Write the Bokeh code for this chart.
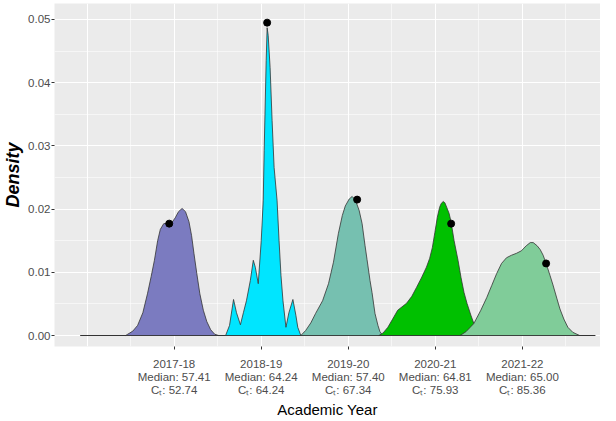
from bokeh.plotting import figure
from bokeh.models import FixedTicker, Range1d, ColumnDataSource
from bokeh.embed import file_html
from bokeh.resources import INLINE

# ---- data (positions on the Academic-Year axis, density values) ----
years = ["2017-18", "2018-19", "2019-20", "2020-21", "2021-22"]
medians = ["57.41", "64.24", "57.40", "64.81", "65.00"]
cts = ["52.74", "64.24", "67.34", "75.93", "85.36"]
colors = ["#7B7BC0", "#00E5FF", "#76C0B0", "#00C000", "#80CC99"]

x_1718 = [0.443, 0.466, 0.525, 0.580, 0.640, 0.693, 0.735, 0.773, 0.810, 0.841, 0.880, 0.943, 0.980, 1.011, 1.050,
          1.091, 1.130, 1.170, 1.200, 1.227, 1.260, 1.295, 1.335, 1.375, 1.420, 1.466, 1.511]
d_1718 = [0, 0.0002, 0.0007, 0.0016, 0.0036, 0.0066, 0.0093, 0.0119, 0.0150, 0.0168, 0.0177, 0.0178, 0.0180, 0.0186, 0.0196,
          0.0201, 0.0196, 0.0180, 0.0158, 0.0130, 0.0098, 0.0066, 0.0040, 0.0022, 0.0009, 0.0002, 0]

x_1819 = [1.591, 1.636, 1.682, 1.716, 1.761, 1.795, 1.830, 1.875, 1.909, 1.932, 1.966, 2.000, 2.023, 2.034, 2.057,
          2.068, 2.080, 2.102, 2.125, 2.148, 2.182, 2.205, 2.227, 2.250, 2.284, 2.318, 2.364, 2.398, 2.420, 2.455]
d_1819 = [0, 0.0016, 0.0057, 0.0036, 0.0017, 0.0036, 0.0055, 0.0087, 0.0119, 0.0108, 0.0082, 0.0150, 0.0214, 0.0293, 0.0435,
          0.0487, 0.0475, 0.0424, 0.0340, 0.0266, 0.0214, 0.0150, 0.0095, 0.0055, 0.0013, 0.0036, 0.0057, 0.0032, 0.0013, 0]

x_1920 = [2.455, 2.511, 2.570, 2.625, 2.705, 2.773, 2.830, 2.886, 2.932, 2.966, 3.011, 3.045, 3.080, 3.125, 3.159, 3.193,
          3.216, 3.250, 3.273, 3.307, 3.341, 3.364, 3.398]
d_1920 = [0, 0.0008, 0.0020, 0.0035, 0.0055, 0.0082, 0.0116, 0.0161, 0.0190, 0.0205, 0.0216, 0.0220, 0.0215, 0.0198, 0.0177, 0.0142,
          0.0120, 0.0087, 0.0068, 0.0035, 0.0016, 0.0006, 0]

x_2021 = [3.352, 3.400, 3.455, 3.510, 3.568, 3.670, 3.730, 3.784, 3.840, 3.898, 3.935, 3.966, 3.995, 4.023, 4.050, 4.068, 4.091,
          4.110, 4.125, 4.159, 4.182, 4.216, 4.261, 4.295, 4.330, 4.364, 4.409, 4.443, 4.489, 4.534]
d_2021 = [0, 0.0004, 0.0013, 0.0026, 0.0040, 0.0051, 0.0062, 0.0076, 0.0091, 0.0108, 0.0122, 0.0139, 0.0163, 0.0187, 0.0203,
          0.0209, 0.0212, 0.0210, 0.0205, 0.0193, 0.0179, 0.0150, 0.0119, 0.0092, 0.0068, 0.0051, 0.0032, 0.0019, 0.0006, 0]

x_2122 = [4.284, 4.352, 4.443, 4.523, 4.591, 4.648, 4.705, 4.761, 4.818, 4.875, 4.932, 4.989, 5.045, 5.091, 5.125,
          5.170, 5.205, 5.239, 5.273, 5.318, 5.352, 5.398, 5.432, 5.477, 5.523, 5.580, 5.659]
d_2122 = [0, 0.0006, 0.0019, 0.0040, 0.0060, 0.0079, 0.0098, 0.0114, 0.0123, 0.0127, 0.0130, 0.0134, 0.0142, 0.0147, 0.0147,
          0.0142, 0.0136, 0.0127, 0.0114, 0.0095, 0.0080, 0.0058, 0.0042, 0.0026, 0.0013, 0.0005, 0]

point_x = [0.943, 2.068, 3.102, 4.182, 5.273]
point_d = [0.0177, 0.0495, 0.0215, 0.0177, 0.0114]

baseline_x = [-0.08, 5.84]
baseline_d = [0, 0]

year_pos = [1, 2, 3, 4, 5]
y_ticks = [0.0, 0.01, 0.02, 0.03, 0.04, 0.05]
y_minor = [0.005, 0.015, 0.025, 0.035, 0.045]
grid_x = [0, 1, 2, 3, 4, 5, 6]
grid_x_minor = [0.5, 1.5, 2.5, 3.5, 4.5, 5.5]

xs_all = [x_1718, x_1819, x_1920, x_2021, x_2122]
ds_all = [d_1718, d_1819, d_1920, d_2021, d_2122]

# ---- figure ----
FONT = "Liberation Sans"
p = figure(width=600, height=420, output_backend="svg", toolbar_location=None,
           x_range=Range1d(-0.375, 5.898), y_range=Range1d(-0.00174, 0.05253),
           min_border_left=48, min_border_right=0, min_border_top=3, min_border_bottom=0)
p.background_fill_color = "#EBEBEB"
p.border_fill_color = "white"
p.outline_line_color = None

# grids
p.xgrid.ticker = FixedTicker(ticks=grid_x, minor_ticks=grid_x_minor)
p.ygrid.ticker = FixedTicker(ticks=y_ticks, minor_ticks=y_minor)
for g in (p.xgrid, p.ygrid):
    g.grid_line_color = "white"
    g.grid_line_width = 1.1
    g.minor_grid_line_color = "white"
    g.minor_grid_line_width = 0.55

# axes
p.xaxis.ticker = FixedTicker(ticks=year_pos, minor_ticks=[])
p.xaxis.major_label_overrides = {
    pos: f"{y}\nMedian: {m}\nC\u209c: {c}" for pos, y, m, c in zip(year_pos, years, medians, cts)
}
p.yaxis.ticker = FixedTicker(ticks=y_ticks, minor_ticks=[])
p.yaxis.major_label_overrides = {t: f"{t:.2f}" for t in y_ticks}

for ax in (p.xaxis[0], p.yaxis[0]):
    ax.axis_line_color = None
    ax.major_tick_line_color = "#333333"
    ax.major_tick_line_width = 1
    ax.major_tick_in = 0
    ax.major_tick_out = 3
    ax.minor_tick_line_color = None
    ax.major_label_text_font = FONT
    ax.major_label_text_font_size = "11.5px"
    ax.major_label_text_color = "#4D4D4D"
    ax.axis_label_text_font = FONT

p.xaxis.major_label_standoff = 8
p.xaxis.major_label_text_line_height = 1.1
p.xaxis.axis_label = "Academic Year"
p.xaxis.axis_label_text_font_size = "15px"
p.xaxis.axis_label_text_font_style = "normal"
p.xaxis.axis_label_text_color = "black"
p.xaxis.axis_label_text_line_height = 1.0
p.xaxis.axis_label_standoff = 2

p.yaxis.major_label_standoff = 1
p.yaxis.axis_label = "Density"
p.yaxis.axis_label_text_font_size = "18px"
p.yaxis.axis_label_text_font_style = "bold italic"
p.yaxis.axis_label_text_color = "black"
p.yaxis.axis_label_standoff = 2

# baseline (density outlines at zero)
p.line(baseline_x, baseline_d, line_color="#333333", line_width=1)

# densities
for xs, ds, col in zip(xs_all, ds_all, colors):
    src = ColumnDataSource(dict(x=xs, y=ds))
    p.patch("x", "y", source=src, fill_color=col, fill_alpha=1.0,
            line_color="#333333", line_width=0.8)

# median points
p.scatter(point_x, point_d, size=7, fill_color="black", line_color="black")

open("out.html", "w").write(file_html(p, INLINE))
